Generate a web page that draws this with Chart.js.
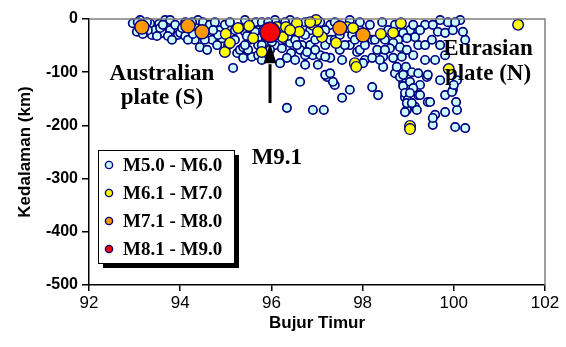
<!DOCTYPE html>
<html>
<head>
<meta charset="utf-8">
<script src="https://cdn.jsdelivr.net/npm/chart.js@4.4.0/dist/chart.umd.min.js"></script>
<style>
  html, body { margin: 0; padding: 0; background: #fff; }
  #wrap { width: 566px; height: 347px; }
</style>
</head>
<body>
<div id="wrap"><canvas id="myChart" width="566" height="347"></canvas></div>
<script>
// [longitude (E), depth (km)]
const m50_60 = [
  [92.96,-8],[93.05,-24],[93.12,-2],[93.23,-17],[93.34,-8],[93.38,-30],[93.45,-21],[93.54,-9],
  [93.60,-26],[93.67,-2],[93.78,-2],[93.78,-21],[93.89,-11],[93.95,-30],[94.00,-26],[94.11,-6],
  [94.21,-21],[94.32,-11],[94.39,-2],[94.43,-30],[94.50,-6],[94.61,-21],[94.65,-11],[94.70,-39],
  [94.81,-49],[94.43,-53],[94.59,-58],[94.76,-6],[94.87,-21],[94.92,-36],[93.56,-17],[93.29,-21],
  [94.11,-32],[94.26,-6],[93.73,-32],[94.32,-39],
  [93.07,-6],[93.18,-28],[93.27,-6],[93.49,-32],[93.62,-11],[93.82,-39],[94.04,-17],[94.17,-39],
  [94.54,-39],[94.83,-30],[94.98,-11],[94.72,-21],[94.28,-28],
  [95.09,-6],[95.16,-92],[95.25,-64],[95.31,-58],[95.38,-53],[95.38,-73],[95.57,-71],[95.42,-2],
  [95.66,-6],[95.79,-6],[95.71,-49],[95.86,-43],[96.08,-49],[96.19,-83],[96.30,-39],[96.41,-45],
  [96.43,-64],[96.63,-118],[96.67,-49],[96.34,-167],[96.91,-171],[97.15,-171],[96.91,-68],[97.07,-68],
  [97.22,-109],[96.85,-49],[96.74,-6],[96.41,-2],[96.08,-2],[96.85,-21],[97.29,-73],[97.29,-11],
  [97.18,-49],[97.39,-6],[96.63,-58],[96.96,-39],[95.97,-58],[95.79,-49],[95.53,-39],[95.20,-39],
  [95.05,-49],[95.20,-21],[95.42,-24],[95.71,-21],[95.93,-6],[96.30,-6],[96.52,-39],[96.74,-30],
  [97.18,-21],[97.29,-39],[97.07,-6],[96.01,-43],[96.23,-55],[95.49,-58],[95.71,-68],[96.34,-73],
  [95.31,-17],[95.46,-32],[95.64,-24],[96.19,-21],[96.36,-32],[96.56,-49],[96.74,-68],[96.96,-58],
  [95.42,-49],[95.79,-77],[96.52,-77],[96.74,-86],[97.02,-86],
  [97.39,-39],[97.50,-58],[97.55,-77],[97.72,-49],[97.77,-30],[98.21,-39],[98.49,-39],[98.78,-39],
  [99.04,-21],[99.22,-49],[99.37,-11],[99.65,-24],[99.87,-6],[100.14,-2],[100.25,-39],[99.81,-68],
  [99.59,-77],[99.37,-77],[99.11,-68],[99.26,-124],[99.81,-143],[99.70,-115],
  [97.39,-124],[97.55,-148],[97.72,-133],[98.21,-128],[98.34,-143],[97.88,-62],[98.05,-77],[98.45,-90],
  [98.71,-102],[98.86,-71],[98.89,-120],[98.93,-147],[98.97,-171],[98.43,-6],[98.89,-26],[98.67,-45],
  [98.32,-58],[99.54,-11],[99.52,-39],[99.81,-26],[99.98,-21],[100.03,-6],[100.20,-24],[99.11,-11],
  [99.15,-34],[98.97,-36],[98.82,-53],[98.97,-58],[98.60,-55],[98.45,-71],[98.67,-73],[98.75,-90],
  [98.95,-90],[99.08,-100],[99.22,-102],[99.41,-109],[98.82,-109],[98.89,-126],[99.04,-118],[99.11,-130],
  [98.93,-139],[98.99,-152],[99.15,-165],[99.22,-143],[99.43,-156],[99.59,-180],[99.81,-175],[100.07,-171],
  [99.98,-133],[100.07,-115],[97.18,-105],[97.35,-118],[96.78,-62],[97.18,-71],[98.01,-83],[98.21,-73],
  [98.38,-77],[97.94,-58],[97.83,-39],[98.49,-58],[99.54,-199],[100.03,-203],[100.25,-205],[98.93,-175],
  [98.97,-158],[99.19,-171],[99.08,-158],[99.04,-139],[99.26,-143],[99.48,-156],[99.54,-186],[100.05,-156],
  [99.96,-137],[100.00,-124],[97.29,-102],[99.43,-105],[98.89,-105],[97.50,-30],[97.72,-2],[97.94,-21],
  [98.16,-11],[98.27,-39],[97.61,-49],[98.05,-49],[99.26,-21],[99.37,-49],[99.70,-2],[98.71,-11],
  [98.56,-21],[97.94,-6],[99.70,-49]
];
const m61_70 = [
  [95.00,-28],[94.98,-62],[95.27,-17],[95.51,-13],[95.60,-36],[95.79,-62],[96.12,-15],[96.25,-34],
  [96.56,-8],[96.61,-24],[96.91,-11],[97.11,-34],[96.32,-15],[96.98,-2],[97.02,-24],[97.42,-45],
  [97.66,-15],[97.79,-17],[97.83,-83],[97.86,-90],[98.40,-28],[98.67,-26],[98.84,-8],[99.89,-94],
  [101.41,-11],[99.04,-201],[99.04,-207],[95.09,-45],[96.85,-6],[95.84,-21],[96.41,-21]
];
const m71_80 = [[93.16,-15],[94.17,-13],[94.48,-24],[97.50,-17],[98.01,-30]];
const m81_90 = [[95.97,-25]];

const legendLabels = ['M5.0 - M6.0', 'M6.1 - M7.0', 'M7.1 - M8.0', 'M8.1 - M9.0'];
const fills = ['#CCFFFF', '#FFFF00', '#FF9900', '#FF0000'];
const xTicks = [92, 94, 96, 98, 100, 102];
const yTicks = [0, -100, -200, -300, -400, -500];

function pts(arr) { return arr.map(p => ({ x: p[0], y: p[1] })); }

const serif = '"Liberation Serif", "Times New Roman", serif';
const sans = '"Liberation Sans", Arial, sans-serif';

const extras = {
  id: 'extras',
  afterDatasetsDraw(chart) {
    const ctx = chart.ctx, a = chart.chartArea;
    const xs = chart.scales.x, ys = chart.scales.y;
    ctx.save();
    // top and right frame
    ctx.strokeStyle = '#808080';
    ctx.lineWidth = 1.5;
    ctx.beginPath();
    ctx.moveTo(a.left, a.top); ctx.lineTo(a.right, a.top); ctx.lineTo(a.right, a.bottom);
    ctx.stroke();

    // arrow to the M9.1 event
    const ax = xs.getPixelForValue(95.97);
    const tip = ys.getPixelForValue(-45), base = ys.getPixelForValue(-83), tail = ys.getPixelForValue(-158);
    ctx.strokeStyle = '#000'; ctx.fillStyle = '#000';
    ctx.lineWidth = 3;
    ctx.beginPath(); ctx.moveTo(ax, tail); ctx.lineTo(ax, base + 1); ctx.stroke();
    ctx.beginPath(); ctx.moveTo(ax, tip); ctx.lineTo(ax - 6.5, base); ctx.lineTo(ax + 6.5, base); ctx.closePath(); ctx.fill();

    // annotations
    ctx.font = 'bold 23px ' + serif;
    ctx.textAlign = 'center';
    ctx.textBaseline = 'alphabetic';
    ctx.fillText('Australian', xs.getPixelForValue(93.60), ys.getPixelForValue(-115));
    ctx.fillText('plate (S)', xs.getPixelForValue(93.60), ys.getPixelForValue(-160));
    ctx.fillText('Eurasian', xs.getPixelForValue(100.75), ys.getPixelForValue(-68));
    ctx.fillText('plate (N)', xs.getPixelForValue(100.75), ys.getPixelForValue(-115));
    ctx.fillText('M9.1', xs.getPixelForValue(96.12), ys.getPixelForValue(-272));

    // legend box with shadow
    const lx = 98, ly = 150, lw = 136, lh = 113;
    ctx.fillStyle = '#000';
    ctx.fillRect(lx + 5, ly + 5, lw, lh);
    ctx.fillStyle = '#fff';
    ctx.fillRect(lx, ly, lw, lh);
    ctx.lineWidth = 1;
    ctx.strokeStyle = '#000';
    ctx.strokeRect(lx + 0.5, ly + 0.5, lw, lh);
    ctx.font = 'bold 19px ' + serif;
    ctx.textAlign = 'left';
    ctx.textBaseline = 'middle';
    legendLabels.forEach((t, i) => {
      const cy = 165 + i * 28;
      ctx.beginPath();
      ctx.arc(109, cy, 3.6, 0, Math.PI * 2);
      ctx.fillStyle = fills[i]; ctx.fill();
      ctx.lineWidth = 1.4; ctx.strokeStyle = '#000080'; ctx.stroke();
      ctx.fillStyle = '#000';
      ctx.fillText(t, 123, cy + 1);
    });
    ctx.restore();
  }
};

const ctx = document.getElementById('myChart');
const chart = new Chart(ctx, {
  type: 'scatter',
  data: {
    datasets: [
      { label: legendLabels[3], data: pts(m81_90), order: 1, pointRadius: 10, pointBorderWidth: 1.5,
        backgroundColor: fills[3], borderColor: '#000080', clip: false },
      { label: legendLabels[2], data: pts(m71_80), order: 2, pointRadius: 7, pointBorderWidth: 1.4,
        backgroundColor: fills[2], borderColor: '#000080', clip: false },
      { label: legendLabels[1], data: pts(m61_70), order: 3, pointRadius: 5.3, pointBorderWidth: 1.4,
        backgroundColor: fills[1], borderColor: '#000080', clip: false },
      { label: legendLabels[0], data: pts(m50_60), order: 4, pointRadius: 4.2, pointBorderWidth: 1.7,
        backgroundColor: fills[0], borderColor: '#000080', clip: false }
    ]
  },
  options: {
    responsive: false,
    animation: false,
    devicePixelRatio: 1,
    layout: { padding: { top: 19, right: 21, left: 11, bottom: 13 } },
    plugins: { legend: { display: false }, tooltip: { enabled: false } },
    scales: {
      x: {
        type: 'linear', min: 92, max: 102,
        afterBuildTicks: s => { s.ticks = xTicks.map(v => ({ value: v })); },
        afterFit: s => { s.height = 49; },
        ticks: { color: '#000', font: { family: sans, size: 17 }, padding: 2 },
        grid: { drawOnChartArea: false, drawTicks: true, tickLength: 6, color: '#000', lineWidth: 1.5 },
        border: { display: true, color: '#000', width: 1.5 },
        title: { display: true, text: 'Bujur Timur', color: '#000', font: { family: sans, size: 17, weight: 'bold' }, padding: { top: 2, bottom: 0 } }
      },
      y: {
        type: 'linear', min: -500, max: 0,
        afterBuildTicks: s => { s.ticks = yTicks.map(v => ({ value: v })); },
        afterFit: s => { s.width = 78; },
        ticks: { color: '#000', font: { family: sans, size: 16, weight: 'bold' }, padding: 4 },
        grid: { drawOnChartArea: false, drawTicks: true, tickLength: 7, color: '#000', lineWidth: 1.5 },
        border: { display: true, color: '#000', width: 1.5 },
        title: { display: true, text: 'Kedalaman (km)', color: '#000', font: { family: sans, size: 17, weight: 'bold' }, padding: { bottom: 2 } }
      }
    }
  },
  plugins: [extras]
});
</script>
</body>
</html>
